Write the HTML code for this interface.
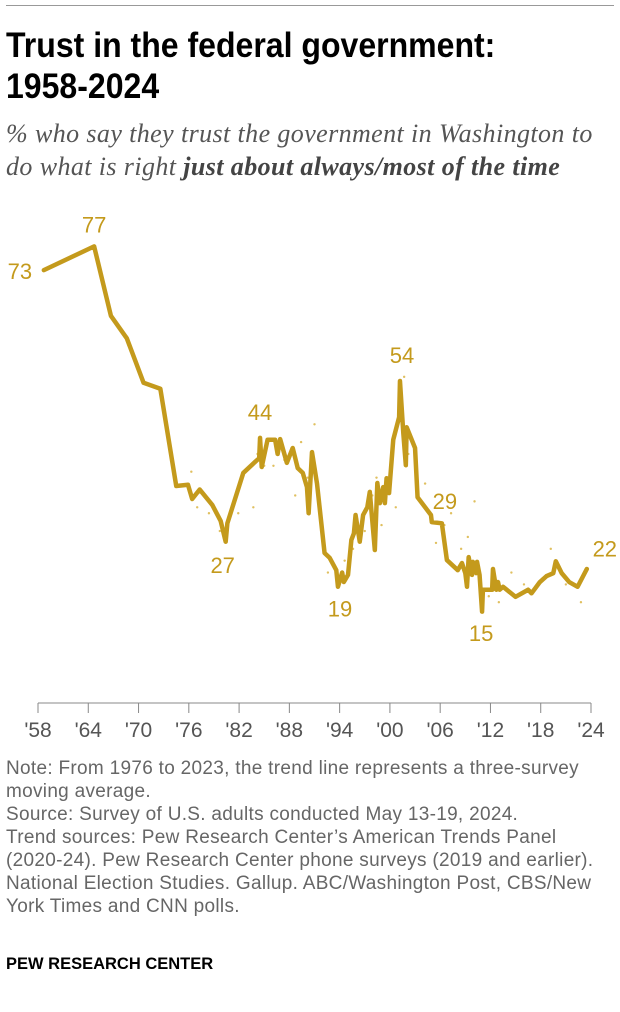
<!DOCTYPE html>
<html><head><meta charset="utf-8"><style>
body{margin:0;background:#fff;width:620px;height:1012px;overflow:hidden;font-family:"Liberation Sans",sans-serif;position:relative}
.topline{position:absolute;left:6px;right:6px;top:5px;height:1px;background:#999}
h1{position:absolute;left:6px;top:25px;margin:0;font-family:"Liberation Sans Narrow","Liberation Sans",sans-serif;font-weight:bold;font-size:35px;line-height:41px;color:#000;transform:scaleX(0.915);transform-origin:left top;width:700px}
.sub{position:absolute;left:6px;top:117px;margin:0;font-family:"Liberation Serif",serif;font-style:italic;font-size:26px;letter-spacing:0.4px;line-height:33px;color:#555;width:612px}
.sub b{color:#444}
.note{position:absolute;left:6px;top:757px;font-size:19px;letter-spacing:0.3px;line-height:23px;color:#666;white-space:nowrap}
.brand{position:absolute;left:6px;top:955px;font-size:16.5px;font-weight:bold;color:#000}
svg{position:absolute;left:0;top:0}
</style></head><body>
<div class="topline"></div>
<h1>Trust in the federal government:<br>1958-2024</h1>
<p class="sub">% who say they trust the government in Washington to do what is right <b>just about always/most of the time</b></p>
<svg width="620" height="1012" id="chart"></svg>
<div class="note">Note: From 1976 to 2023, the trend line represents a three-survey<br>moving average.<br>Source: Survey of U.S. adults conducted May 13-19, 2024.<br>Trend sources: Pew Research Center’s American Trends Panel<br>(2020-24). Pew Research Center phone surveys (2019 and earlier).<br>National Election Studies. Gallup. ABC/Washington Post, CBS/New<br>York Times and CNN polls.</div>
<div class="brand">PEW RESEARCH CENTER</div>
<script>
const years=[1958.7,1964.7,1966.7,1968.6,1970.6,1972.6,1974.5,1975.9,1976.4,1977.3,1978.8,1979.8,1980.4,1980.6,1982.5,1984.4,1984.5,1984.7,1985.4,1986.3,1986.6,1986.9,1987.7,1988.4,1989.0,1989.6,1990.1,1990.3,1990.7,1991.3,1992.2,1992.8,1993.6,1993.8,1994.3,1994.5,1995.0,1995.4,1995.7,1995.9,1996.4,1996.8,1997.3,1997.6,1998.2,1998.5,1998.8,1999.2,1999.4,1999.6,1999.9,2000.4,2001.1,2001.2,2001.6,2001.9,2002.0,2003.0,2003.3,2004.9,2005.0,2006.2,2006.8,2008.1,2008.6,2009.0,2009.2,2009.4,2009.8,2009.9,2010.3,2010.4,2010.7,2011.0,2011.1,2012.2,2012.3,2012.7,2012.9,2013.1,2013.5,2015.0,2016.5,2016.9,2017.9,2018.7,2019.5,2019.8,2020.5,2021.4,2022.4,2023.5];
const trust=[73,77,65.3,61.5,54,53,36.6,36.8,34.4,36,33.4,30.7,27.2,30.3,38.8,41.3,44.7,39.8,44.4,44.4,42,44.5,40.5,43,39.6,38.8,36.4,32,42.3,37,25.3,24.5,22.4,19.6,22,20.4,21.6,27.5,28.6,31.7,27.2,31.7,33,35.6,25.8,37.1,33.7,36.4,33.7,37.9,35.4,44.4,48.2,54.3,45.5,40.1,46.5,43,34.7,31.7,30.5,30.3,24.1,22.4,23.6,21.9,19.6,24.6,21.6,23.8,21.9,23.8,21.6,15.4,19.1,19.1,22.6,19.1,20.4,19.1,19.6,17.9,19.1,18.5,20.4,21.4,21.9,23.9,21.9,20.4,19.6,22.6];
const dotYears=[1976.3,1977.0,1978.4,1979.7,1981.9,1983.7,1984.2,1985.0,1986.1,1987.4,1988.7,1989.4,1990.2,1990.5,1991.0,1992.0,1992.6,1994.6,1995.6,1996.1,1997.0,1997.9,1998.4,1999.0,2000.0,2000.7,2001.7,2002.2,2004.2,2005.5,2006.5,2007.3,2008.5,2009.3,2010.1,2011.8,2013.0,2014.5,2016.0,2018.2,2019.2,2021.0,2022.8];
const dotValues=[39,33,32,29,32,33,42,40,40,41,35,44,38,38,47,27,22,24,26,31,29,35,38,30,36,33,55,42,37,27,30,32,26,28,34,18,17,22,20,21,26,20,17];
const tickLabels=["'58","'64","'70","'76","'82","'88","'94","'00","'06","'12","'18","'24"];
const tickYears=[1958,1964,1970,1976,1982,1988,1994,2000,2006,2012,2018,2024];
const labelYears=[1958.7,1964.7,1984.5,1980.4,1993.8,2001.2,2006.2,2011.0,2023.5];
const labelValues=[73,77,44,27,19,54,29,15,22];
const x=y=>38+(y-1958)*(553/66);
const yv=v=>703-v*5.93;
const NS="http://www.w3.org/2000/svg";
const svg=document.getElementById('chart');
function mk(t,a){const e=document.createElementNS(NS,t);for(const k in a)e.setAttribute(k,a[k]);svg.appendChild(e);return e;}
const ax=mk('line',{x1:x(1958),x2:x(2024),y1:703,y2:703,stroke:'#888','stroke-width':1});


tickYears.forEach((t,i)=>{
 const l=mk('line',{x1:x(t),x2:x(t),y1:703,y2:713,stroke:'#888','stroke-width':1});
 
 
 const tx=mk('text',{x:x(t),y:737,'text-anchor':'middle','font-size':21,fill:'#555','font-family':'Liberation Sans, sans-serif'});
 tx.textContent=tickLabels[i];
 
 
});
dotYears.forEach((yr,i)=>{
 const d=mk('circle',{cx:x(yr),cy:yv(dotValues[i]),r:1.2,fill:'#e0c060'});
 
 
});
const p=mk('polyline',{points:years.map((yr,i)=>x(yr)+','+yv(trust[i])).join(' '),fill:'none',stroke:'#c49a1c','stroke-width':4.5,'stroke-linejoin':'round','stroke-linecap':'round'});


const offs=[[-24,9],[0,-14],[0,-22],[-3,30],[2,26],[2,-20],[3,-22],[-1,27],[18,-16]];
labelYears.forEach((yr,i)=>{
 const t=mk('text',{x:x(yr)+offs[i][0],y:yv(labelValues[i])+offs[i][1],'text-anchor':'middle','font-size':22,fill:'#c49a1c','font-family':'Liberation Sans, sans-serif'});
 t.textContent=labelValues[i];
 
 
});
</script>
</body></html>
